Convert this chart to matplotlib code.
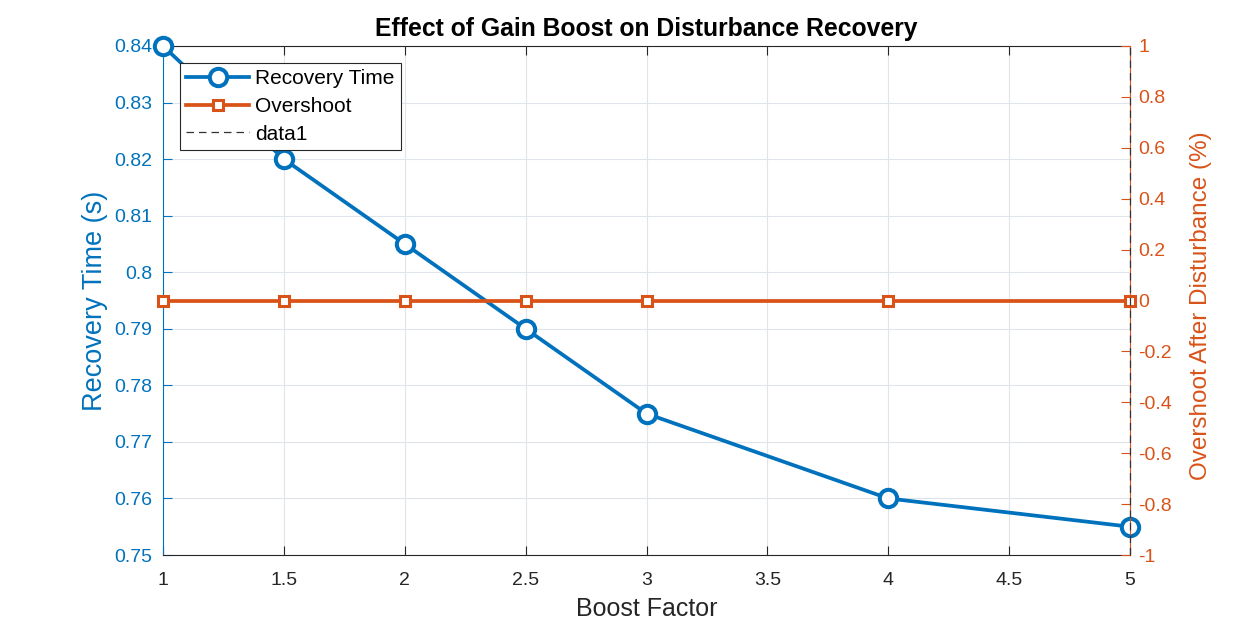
import matplotlib.pyplot as plt

plt.rcParams['font.family'] = ['Liberation Sans', 'DejaVu Sans']

boost = [1, 1.5, 2, 2.5, 3, 4, 5]
rec_time = [0.84, 0.82, 0.805, 0.79, 0.775, 0.76, 0.755]
overshoot = [0, 0, 0, 0, 0, 0, 0]
xline_pos = 5

xticks = [1, 1.5, 2, 2.5, 3, 3.5, 4, 4.5, 5]
yticks_left = [0.75, 0.76, 0.77, 0.78, 0.79, 0.8, 0.81, 0.82, 0.83, 0.84]
yticks_right = [-1, -0.8, -0.6, -0.4, -0.2, 0, 0.2, 0.4, 0.6, 0.8, 1]

blue = '#0072BD'
orange = '#D95319'
dark = '#262626'

fig = plt.figure(figsize=(12.5, 6.25), dpi=100)
ax = fig.add_axes([0.1304, 0.112, 0.7736, 0.8144])
ax2 = ax.twinx()

l1, = ax.plot(boost, rec_time, color=blue, lw=2.7, marker='o', ms=12.5,
              mfc='white', mew=2.9, label='Recovery Time', clip_on=False, zorder=3)
l2, = ax2.plot(boost, overshoot, color=orange, lw=2.7, marker='s', ms=7.5,
               mfc='white', mew=2.2, label='Overshoot', clip_on=False, zorder=3)
l3 = ax2.axvline(xline_pos, color='#333333', lw=0.9, ls=(0, (6, 4)), label='data1',
                 zorder=4, clip_on=False)

ax.set_xlim(1, 5)
ax.set_ylim(0.75, 0.84)
ax.set_xticks(xticks)
ax.set_xticklabels(['%g' % v for v in xticks])
ax.set_yticks(yticks_left)
ax.set_yticklabels(['%g' % v for v in yticks_left])
ax2.set_ylim(-1, 1)
ax2.set_yticks(yticks_right)
ax2.set_yticklabels(['%g' % v for v in yticks_right])

ax.grid(True, color='#dfe5ea', lw=0.8)
ax.set_axisbelow(True)

ax.tick_params(axis='x', colors=dark, labelsize=14, direction='in', length=6.5, top=True, pad=12)
ax.tick_params(axis='y', colors=blue, labelsize=14, direction='in', length=6.5, pad=8)
ax2.tick_params(axis='y', colors=orange, labelsize=14, direction='in', length=6.5, pad=6)

for s in ['top', 'bottom']:
    ax.spines[s].set_color(dark)
ax.spines['left'].set_color(blue)
ax.spines['right'].set_visible(False)
ax2.spines['left'].set_visible(False)
ax2.spines['right'].set_color(orange)
ax2.spines['top'].set_visible(False)
ax2.spines['bottom'].set_visible(False)

ax.set_xlabel('Boost Factor', fontsize=18, color=dark)
ax.set_ylabel('Recovery Time (s)', fontsize=19.5, color=blue)
ax2.set_ylabel('Overshoot After Disturbance (%)', fontsize=17.5, color=orange)
ax.xaxis.set_label_coords(0.5, -0.082)
ax.yaxis.set_label_coords(-0.057, 0.5)
ax2.yaxis.set_label_coords(1.062, 0.49)
ax.set_title('Effect of Gain Boost on Disturbance Recovery', fontsize=17.8, fontweight='bold', pad=7)

leg = ax2.legend(handles=[l1, l2, l3], loc='upper left', bbox_to_anchor=(0.0176, 0.9666),
                 borderaxespad=0, fontsize=15, fancybox=False, framealpha=1, edgecolor=dark,
                 handlelength=3.0, borderpad=0.3, labelspacing=0.42, handletextpad=0.3)
leg.get_frame().set_linewidth(0.8)

fig.savefig('out.png', dpi=100)
